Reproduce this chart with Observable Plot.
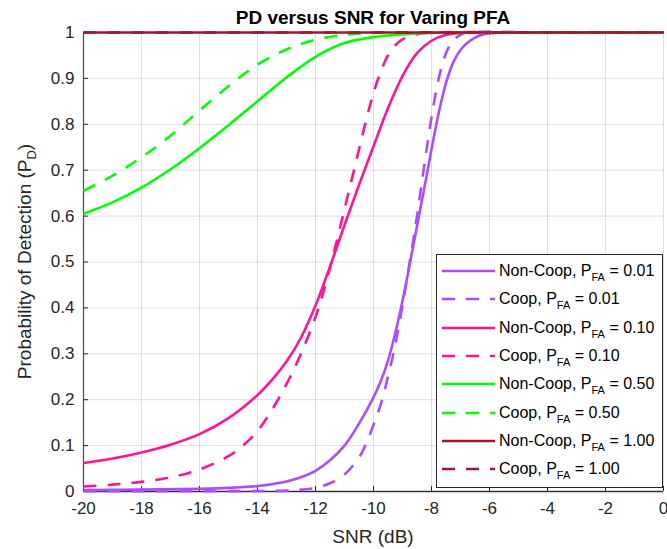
<!DOCTYPE html>
<html><head><meta charset="utf-8">
<script src="https://cdn.jsdelivr.net/npm/d3@7"></script>
<script src="https://cdn.jsdelivr.net/npm/@observablehq/plot@0.6"></script>
<style>
body{margin:0;background:#fff;font-family:"Liberation Sans",Arial,Helvetica,sans-serif;}
#wrap{position:relative;width:667px;height:549px;}
#legend{position:absolute;left:436px;top:254px;width:227px;height:234px;box-sizing:border-box;border:1px solid #262626;background:#fff;}
.row{position:absolute;left:0;height:28px;display:flex;align-items:center;font-size:16px;color:#000;white-space:nowrap;}
.row svg{margin-left:5px;margin-right:4px;}
.row sub{font-size:11px;vertical-align:-5px;line-height:0;}
</style></head><body><div id="wrap"></div>
<script>
// ---- data ----
const xTicks = [-20,-18,-16,-14,-12,-10,-8,-6,-4,-2,0];
const yTicks = [0,0.1,0.2,0.3,0.4,0.5,0.6,0.7,0.8,0.9,1];

const nonCoop001 = [[-20,0.003],[-18,0.004],[-16,0.006],[-15,0.008],[-14,0.012],[-13,0.022],[-12.5,0.031],[-12,0.045],[-11.5,0.068],[-11,0.10],[-10.5,0.148],[-10,0.205],[-9.75,0.24],[-9.5,0.285],[-9.25,0.345],[-9,0.415],[-8.75,0.495],[-8.5,0.578],[-8.25,0.66],[-8,0.745],[-7.75,0.825],[-7.5,0.89],[-7.25,0.935],[-7,0.962],[-6.75,0.978],[-6.5,0.989],[-6.25,0.995],[-6,0.998],[-5.5,1],[-4,1],[0,1]];
const coop001 = [[-20,0.0005],[-16,0.0007],[-14,0.001],[-13,0.002],[-12.5,0.004],[-12,0.008],[-11.5,0.018],[-11,0.037],[-10.5,0.074],[-10.25,0.105],[-10,0.145],[-9.75,0.19],[-9.5,0.25],[-9.25,0.32],[-9,0.405],[-8.75,0.5],[-8.5,0.6],[-8.25,0.71],[-8,0.815],[-7.75,0.9],[-7.5,0.955],[-7.25,0.983],[-7,0.995],[-6.75,1],[-4,1],[0,1]];
const nonCoop010 = [[-20,0.062],[-19,0.072],[-18,0.085],[-17,0.102],[-16,0.125],[-15,0.16],[-14,0.21],[-13.5,0.243],[-13,0.283],[-12.5,0.335],[-12,0.405],[-11.5,0.49],[-11,0.58],[-10.5,0.668],[-10,0.752],[-9.5,0.835],[-9,0.905],[-8.5,0.955],[-8,0.982],[-7.5,0.995],[-7,0.999],[-6.5,1],[-4,1],[0,1]];
const coop010 = [[-20,0.011],[-19,0.015],[-18,0.021],[-17,0.031],[-16,0.048],[-15,0.077],[-14.5,0.1],[-14,0.132],[-13.5,0.178],[-13,0.234],[-12.5,0.30],[-12,0.38],[-11.75,0.43],[-11.5,0.487],[-11.25,0.55],[-11,0.615],[-10.75,0.68],[-10.5,0.745],[-10.25,0.81],[-10,0.868],[-9.75,0.915],[-9.5,0.95],[-9.25,0.972],[-9,0.985],[-8.5,0.996],[-8,1],[-5,1],[0,1]];
const nonCoop050 = [[-20,0.605],[-19,0.63],[-18,0.662],[-17,0.702],[-16,0.748],[-15,0.798],[-14,0.85],[-13,0.902],[-12,0.947],[-11,0.977],[-10,0.99],[-9,0.996],[-8,0.999],[-7,1],[-4,1],[0,1]];
const coop050 = [[-20,0.655],[-19,0.688],[-18,0.728],[-17,0.775],[-16,0.83],[-15,0.883],[-14,0.93],[-13,0.963],[-12,0.984],[-11,0.995],[-10,0.999],[-9,1],[-5,1],[0,1]];
const nonCoop100 = [[-20,1],[0,1]];
const coop100 = [[-20,1],[0,1]];

const seriesData = [nonCoop001, coop001, nonCoop010, coop010, nonCoop050, coop050, nonCoop100, coop100];
const seriesKind = ["Non-Coop","Coop","Non-Coop","Coop","Non-Coop","Coop","Non-Coop","Coop"];
const seriesPfa = ["0.01","0.01","0.10","0.10","0.50","0.50","1.00","1.00"];

// ---- styles ----
const colors = ["#AD4CFF","#AD4CFF","#FF1493","#FF1493","#00FF00","#00FF00","#A2142F","#A2142F"];
const DASH = "13,11";
const dashes = seriesKind.map(k => k === "Coop" ? DASH : null);
const LW = 2.6;
const axisColor = "#262626";

const W = 667, H = 549, mT = 32, mB = 58, mL = 83, mR = 4;
const plotW = W - mL - mR, plotH = H - mT - mB;
const fmt = d => String(d);

const marks = [
  Plot.gridX(xTicks, {stroke: axisColor, strokeOpacity: 0.15}),
  Plot.gridY(yTicks, {stroke: axisColor, strokeOpacity: 0.15}),
  Plot.axisX(xTicks, {tickSize: 0, tickPadding: 10, tickFormat: fmt, fontSize: 17, label: null}),
  Plot.axisY(yTicks, {tickSize: 0, tickPadding: 9, tickFormat: fmt, fontSize: 17, label: null}),
  Plot.tickX(xTicks, {x: d => d, insetTop: plotH - 5, stroke: axisColor}),
  Plot.tickY(yTicks, {y: d => d, insetRight: plotW - 5, stroke: axisColor}),
  Plot.ruleX([xTicks[0]], {stroke: "#555", strokeWidth: 1.3}),
  Plot.ruleY([yTicks[0]], {stroke: "#333", strokeWidth: 1.3}),
  ...seriesData.map((pts, i) => Plot.line(pts, {
    x: d => d[0], y: d => d[1], stroke: colors[i], strokeWidth: LW,
    strokeDasharray: dashes[i], strokeLinecap: "butt", curve: "catmull-rom"
  }))
];

const svgEl = Plot.plot({
  width: W, height: H, marginTop: mT, marginBottom: mB, marginLeft: mL, marginRight: mR,
  x: {domain: [xTicks[0], xTicks[xTicks.length-1]]},
  y: {domain: [yTicks[0], yTicks[yTicks.length-1]]},
  style: {fontFamily: '"Liberation Sans", Arial, Helvetica, sans-serif', color: axisColor, background: "#fff"},
  marks
});

const svg = d3.select(svgEl);
const cx = mL + plotW / 2, cy = mT + plotH / 2;
svg.append("text").attr("x", cx).attr("y", 24).attr("text-anchor", "middle")
  .attr("font-size", 19).attr("font-weight", "bold").attr("fill", "#000")
  .text("PD versus SNR for Varing PFA");
svg.append("text").attr("x", cx).attr("y", 543).attr("text-anchor", "middle")
  .attr("font-size", 19).attr("fill", axisColor).text("SNR (dB)");
const yl = svg.append("text").attr("transform", `translate(31,${cy}) rotate(-90)`)
  .attr("text-anchor", "middle").attr("font-size", 19).attr("fill", axisColor);
yl.append("tspan").text("Probability of Detection (P");
yl.append("tspan").attr("font-size", 13).attr("dy", 5).text("D");
yl.append("tspan").attr("dy", -5).text(")");

const wrap = document.getElementById("wrap");
wrap.appendChild(svgEl);

// ---- legend ----
const legend = document.createElement("div");
legend.id = "legend";
seriesData.forEach((_, i) => {
  const row = document.createElement("div");
  row.className = "row";
  row.style.top = (2 + i * 28.33) + "px";
  const dash = dashes[i] ? `stroke-dasharray="${dashes[i]}"` : "";
  row.innerHTML = `<svg width="53" height="28"><line x1="0" x2="53" y1="14" y2="14" stroke="${colors[i]}" stroke-width="${LW}" ${dash}/></svg>` +
    `<span>${seriesKind[i]}, P<sub>FA</sub> = ${seriesPfa[i]}</span>`;
  legend.appendChild(row);
});
wrap.appendChild(legend);
</script>
</body></html>
